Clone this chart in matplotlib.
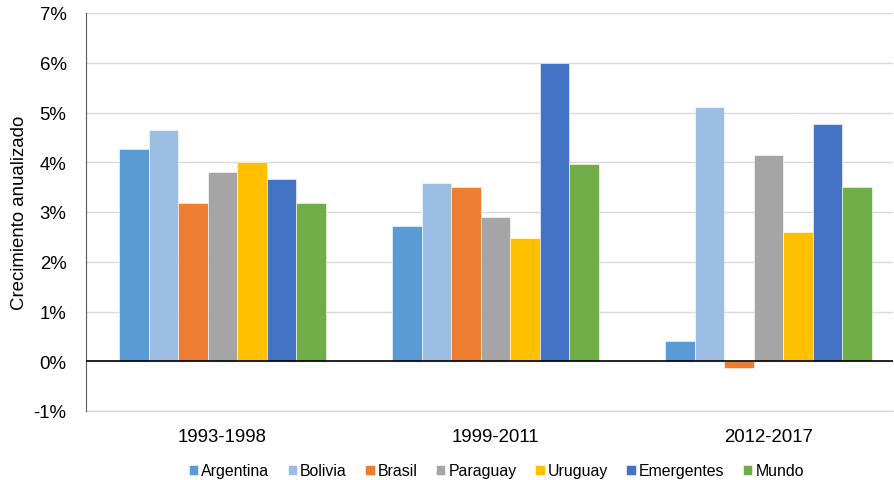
import matplotlib.pyplot as plt
import numpy as np

plt.rcParams['font.family'] = ['Liberation Sans', 'DejaVu Sans']

periodos = ['1993-1998', '1999-2011', '2012-2017']
paises = ['Argentina', 'Bolivia', 'Brasil', 'Paraguay', 'Uruguay', 'Emergentes', 'Mundo']
colores = ['#5B9BD5', '#9DBEE3', '#ED7D31', '#A5A5A5', '#FFC000', '#4472C4', '#70AD47']

# crecimiento anualizado (%) por periodo
argentina = [4.26, 2.72, 0.40]
bolivia = [4.65, 3.58, 5.11]
brasil = [3.18, 3.50, -0.14]
paraguay = [3.81, 2.90, 4.14]
uruguay = [4.01, 2.47, 2.60]
emergentes = [3.67, 6.00, 4.77]
mundo = [3.18, 3.96, 3.50]
series = [argentina, bolivia, brasil, paraguay, uruguay, emergentes, mundo]

fig = plt.figure(figsize=(8.94, 4.81), dpi=100)
ax = fig.add_axes([86/894, 69/481, 807/894, 398/481])

x = np.arange(len(periodos))
w = 0.1083
for i, (nombre, vals, c) in enumerate(zip(paises, series, colores)):
    ax.bar(x + (i - 3) * w, np.array(vals) / 100, w, color=c, label=nombre,
           edgecolor='white', linewidth=0.4, zorder=3)

ax.set_ylim(-0.01, 0.07)
ax.set_xlim(-0.5, 2.5 - 12/273)
ax.set_yticks(np.arange(-0.01, 0.071, 0.01))
ax.set_yticklabels([f'{v}%' for v in range(-1, 8)])
ax.set_xticks(x)
ax.set_xticklabels(periodos)
ax.grid(axis='y', color='#D9D9D9', linewidth=1, zorder=0)
ax.axhline(-0.01, color='#D9D9D9', linewidth=1, clip_on=False, zorder=0)
ax.axhline(0, color='black', linewidth=1.2, zorder=4)

for s in ['top', 'right', 'bottom']:
    ax.spines[s].set_visible(False)
ax.spines['left'].set_color('#595959')
ax.tick_params(axis='both', length=0, labelsize=13.4, colors='black')
ax.tick_params(axis='y', pad=14)
ax.tick_params(axis='x', pad=12)
ax.set_ylabel('Crecimiento anualizado', fontsize=13.4, labelpad=4)

fig.legend(loc='lower center', ncol=7, frameon=False, fontsize=11.4,
           bbox_to_anchor=(0.555, -0.026), handlelength=0.6, handleheight=0.6,
           handletextpad=0.2, columnspacing=1.15)

fig.savefig('out.png', dpi=100)
